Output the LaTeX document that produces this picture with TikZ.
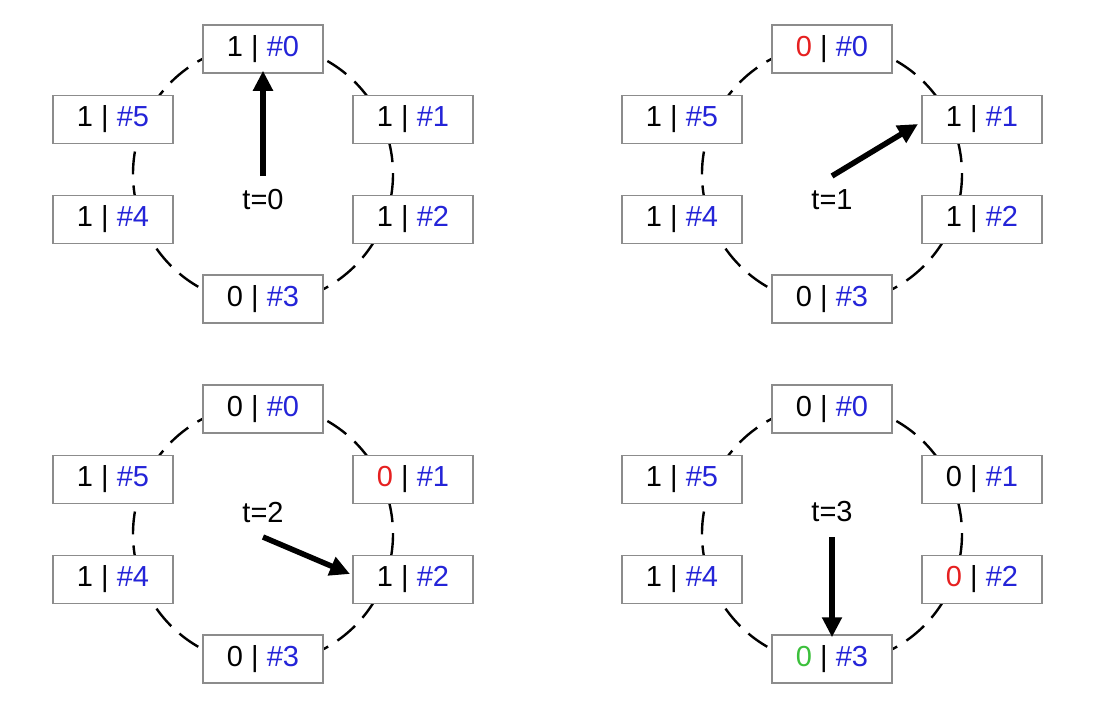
\documentclass[tikz,border=0pt]{standalone}
\usepackage{fontspec}
\setmainfont{Liberation Sans}
\usetikzlibrary{arrows.meta}
\definecolor{idblue}{HTML}{2424D8}
\definecolor{hotred}{HTML}{E62020}
\definecolor{okgreen}{HTML}{3CC03C}
\definecolor{boxgray}{HTML}{8C8C8C}
\newcommand{\idn}[1]{\textcolor{idblue}{\##1}}
\newcommand{\ringpanel}[9]{%
  \draw[ring] (#2,#3) circle[radius=130];
  \node[cell] (#1-0) at (#2,#3-125) {#4 | \idn{0}};
  \node[cell] (#1-1) at (#2+150,#3-54.5) {#5 | \idn{1}};
  \node[cell] (#1-2) at (#2+150,#3+45.5) {#6 | \idn{2}};
  \node[cell] (#1-3) at (#2,#3+125) {#7 | \idn{3}};
  \node[cell] (#1-4) at (#2-150,#3+45.5) {#8 | \idn{4}};
  \node[cell] (#1-5) at (#2-150,#3-54.5) {#9 | \idn{5}};
}
\tikzset{
  ring/.style={line width=2.4pt, dash pattern=on 23pt off 11pt, black},
  cell/.style={draw=boxgray, line width=1.5pt, fill=white, minimum width=120pt,
    minimum height=48pt, inner sep=0pt, font=\fontsize{29}{34}\selectfont},
  tlabel/.style={font=\fontsize{29}{34}\selectfont, inner sep=0pt},
  ptr/.style={line width=5.5pt, -{Triangle[width=19pt,length=20pt]}}
}
\begin{document}
\begin{tikzpicture}[x=1pt,y=-1pt]
\useasboundingbox (0,0) rectangle (1109,720);
% panel A: t=0
\ringpanel{A}{263}{174}{1}{1}{1}{0}{1}{1}
\node[tlabel] (A-t) at (263,200) {t=0};
\coordinate (A-tail) at (263,176);
\draw[ptr] (A-tail) -- ([yshift=3pt]A-0.south);
% panel B: t=1
\ringpanel{B}{832}{174}{\textcolor{hotred}{0}}{1}{1}{0}{1}{1}
\node[tlabel] (B-t) at (832,200) {t=1};
\coordinate (B-tail) at (832,176);
\coordinate (B-tip) at (918,124);
\draw[ptr] (B-tail) -- (B-tip);
% panel C: t=2
\ringpanel{C}{263}{534}{0}{\textcolor{hotred}{0}}{1}{0}{1}{1}
\node[tlabel] (C-t) at (263,512) {t=2};
\coordinate (C-tail) at (263,537);
\coordinate (C-tip) at (350,574);
\draw[ptr] (C-tail) -- (C-tip);
% panel D: t=3
\ringpanel{D}{832}{534}{0}{0}{\textcolor{hotred}{0}}{\textcolor{okgreen}{0}}{1}{1}
\node[tlabel] (D-t) at (832,512) {t=3};
\coordinate (D-tail) at (832,537);
\draw[ptr] (D-tail) -- ([yshift=-3pt]D-3.north);
\end{tikzpicture}
\end{document}
